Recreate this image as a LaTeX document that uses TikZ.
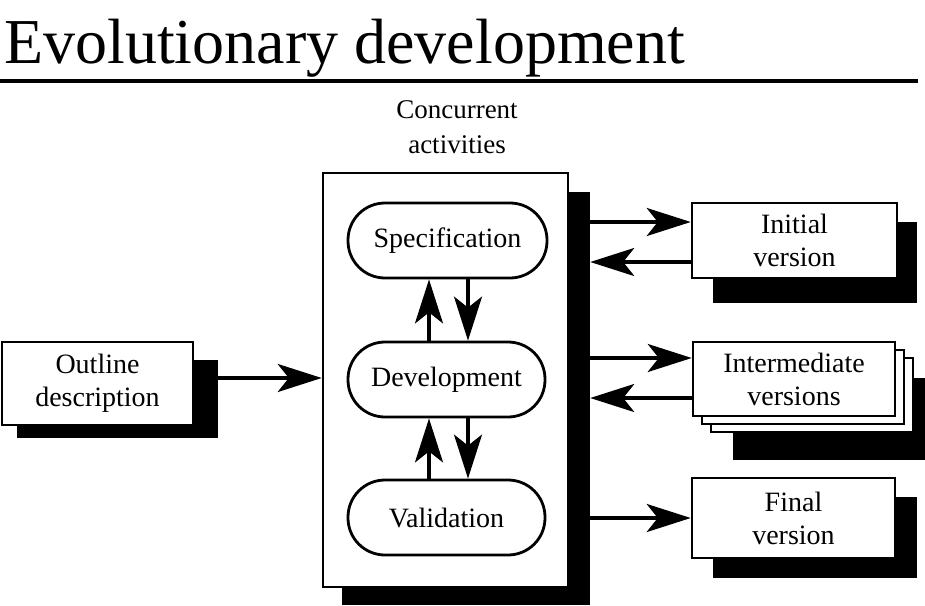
\documentclass[tikz,border=0pt]{standalone}
\usepackage{fontspec}
\setmainfont{Liberation Serif}
\usetikzlibrary{arrows.meta}

\begin{document}
\begin{tikzpicture}[x=1pt,y=-1pt,
  box/.style={draw, line width=2.5pt, fill=white, inner sep=0pt, align=center,
    font=\fontsize{28}{33}\selectfont},
  backbox/.style={draw, line width=2.5pt, fill=white, inner sep=0pt},
  shadowbox/.style={fill=black, inner sep=0pt},
  pill/.style={draw, line width=2.8pt, fill=white, inner sep=0pt, rounded corners=37pt,
    minimum height=75pt, font=\fontsize{28}{30}\selectfont},
  arr/.style={line width=3.4pt, -{Stealth[length=44pt,width=28pt,inset=11pt]}},
]
\useasboundingbox (0,0) rectangle (925,605);

% title and rule
\node[anchor=base west, inner sep=0pt, font=\fontsize{64}{70}\selectfont] (title) at (4,63) {Evolutionary development};
\draw[line width=4pt] (0,81) -- (918,81);

% concurrent activities container
\node[align=center, inner sep=0pt, font=\fontsize{27}{35}\selectfont] (cap) at (457,127) {Concurrent\\activities};
\node[shadowbox, minimum width=248pt, minimum height=413pt] (mainsh) at (466,398.5) {};
\node[backbox, minimum width=245pt, minimum height=414pt] (main) at (445.5,380) {};

\node[pill, minimum width=199pt] (spec) at (447.5,240.5) {Specification};
\node[pill, minimum width=197pt] (dev) at (446.5,379.5) {Development};
\node[pill, minimum width=197pt] (val) at (446.5,517.5) {Validation};

% outline description
\node[shadowbox, minimum width=201pt, minimum height=78pt] (outsh) at (117.5,399) {};
\node[box, minimum width=191pt, minimum height=83pt] (outline) at (97.5,383.5) {Outline\\description};

% initial version
\node[shadowbox, minimum width=204pt, minimum height=81pt] (initsh) at (815,262.5) {};
\node[box, minimum width=205pt, minimum height=75pt] (init) at (794.5,240.5) {Initial\\version};

% intermediate versions (stack of three)
\node[shadowbox, minimum width=192pt, minimum height=82pt] (midsh) at (829,419) {};
\node[backbox, minimum width=202pt, minimum height=74pt] (mid3) at (812,395) {};
\node[backbox, minimum width=202pt, minimum height=74pt] (mid2) at (803,387) {};
\node[box, minimum width=202pt, minimum height=74pt] (mid) at (794,379) {Intermediate\\versions};

% final version
\node[shadowbox, minimum width=204pt, minimum height=81pt] (finsh) at (815,537.5) {};
\node[box, minimum width=203pt, minimum height=80pt] (fin) at (793.5,518) {Final\\version};

% connector rows and columns
\coordinate (r1) at (0,222);
\coordinate (r2) at (0,262);
\coordinate (r3) at (0,358);
\coordinate (r4) at (0,398);
\coordinate (r5) at (0,518);
\coordinate (r0) at (0,378);
\coordinate (cu) at (429,0);
\coordinate (cd) at (468,0);

% inner activity loops
\draw[arr] (dev.north -| cu) -- (spec.south -| cu);
\draw[arr] (spec.south -| cd) -- (dev.north -| cd);
\draw[arr] (val.north -| cu) -- (dev.south -| cu);
\draw[arr] (dev.south -| cd) -- (val.north -| cd);

% input
\draw[arr] (outsh.east |- r0) -- (main.west |- r0);

% outputs and feedback
\draw[arr] (mainsh.east |- r1) -- (init.west |- r1);
\draw[arr] (init.west |- r2) -- (mainsh.east |- r2);
\draw[arr] (mainsh.east |- r3) -- (mid.west |- r3);
\draw[arr] (mid.west |- r4) -- (mainsh.east |- r4);
\draw[arr] (mainsh.east |- r5) -- (fin.west |- r5);
\end{tikzpicture}
\end{document}
